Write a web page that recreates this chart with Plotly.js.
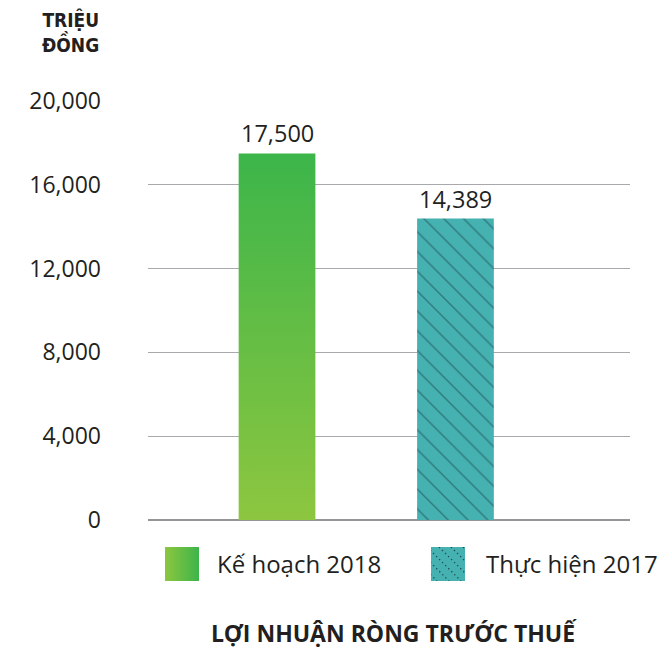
<!DOCTYPE html>
<html>
<head>
<meta charset="utf-8">
<script src="https://cdn.plot.ly/plotly-3.0.1.min.js"></script>
<style>html,body{margin:0;padding:0;background:#fff;}#chart{width:662px;height:650px;}</style>
</head>
<body>
<div id="chart"></div>
<script>
// ---- data ----
const categories = ['Kế hoạch 2018', 'Thực hiện 2017'];
const values = [17500, 14389];
const valueLabels = ['17,500', '14,389'];
const yTickValues = [0, 4000, 8000, 12000, 16000, 20000];
const yTickLabels = ['0', '4,000', '8,000', '12,000', '16,000', '20,000'];
const unitLabel = 'TRIỆU<br>ĐỒNG';
const chartTitle = 'LỢI NHUẬN RÒNG TRƯỚC THUẾ';

// ---- layout geometry ----
const W = 662, H = 650;
const M = {l: 148, r: 32, t: 101, b: 130};
const plotW = W - M.l - M.r, plotH = H - M.t - M.b;
const px = x => (x - M.l) / plotW;
const py = y => (H - M.b - y) / plotH;
const barW = 0.43;
const FONT = '"Open Sans", "Noto Sans", sans-serif';
const TEAL = '#45b1b0';

// bar 0: gradient filled bar drawn as a filled scatter from data
const i0 = 0, h0 = values[0];
const trace0 = {
  type: 'scatter', mode: 'lines',
  x: [i0 - barW/2, i0 - barW/2, i0 + barW/2, i0 + barW/2, i0 - barW/2],
  y: [0, h0, h0, 0, 0],
  fill: 'toself',
  fillgradient: {type: 'vertical', colorscale: [[0, '#8dc63f'], [1, '#3cb54a']]},
  line: {width: 0},
  hoverinfo: 'skip', showlegend: false, name: categories[0]
};
// bar 1: patterned bar
const trace1 = {
  type: 'bar', x: [1], y: [values[1]], width: barW,
  marker: {color: TEAL, line: {width: 0},
    pattern: {shape: '\\', fgcolor: '#16323a', bgcolor: TEAL, fgopacity: 0.45, size: 14, solidity: 0.1, fillmode: 'overlay'}},
  showlegend: false, name: categories[1], hoverinfo: 'skip'
};

const annotations = values.map((v, i) => ({
  x: i, y: v, xref: 'x', yref: 'y', text: valueLabels[i], showarrow: false,
  yanchor: 'bottom', yshift: 2, font: {family: FONT, size: 23.5, color: '#231f20'}
}));
annotations.push({
  xref: 'paper', yref: 'paper', x: px(101), y: py(6), xanchor: 'right', yanchor: 'top',
  text: unitLabel, showarrow: false, align: 'right',
  font: {family: '"Liberation Sans Narrow", "DejaVu Sans Condensed", sans-serif', size: 19, color: '#231f20', weight: 'bold'}
});
// legend texts
annotations.push({xref: 'paper', yref: 'paper', x: px(215), y: py(563), xanchor: 'left', yanchor: 'middle',
  text: categories[0], showarrow: false, font: {family: FONT, size: 24, color: '#231f20'}});
annotations.push({xref: 'paper', yref: 'paper', x: px(484), y: py(563), xanchor: 'left', yanchor: 'middle',
  text: categories[1], showarrow: false, font: {family: FONT, size: 24, color: '#231f20'}});

const svgGreen = '<svg xmlns="http://www.w3.org/2000/svg" width="34" height="34"><defs><linearGradient id="g" x1="0" y1="0" x2="1" y2="0"><stop offset="0" stop-color="#8dc63f"/><stop offset="1" stop-color="#3cb54a"/></linearGradient></defs><rect width="34" height="34" fill="url(#g)"/></svg>';
let dots = '';
for (let k = -40; k < 40; k += 12) {
  dots += '<line x1="' + k + '" y1="0" x2="' + (k + 34) + '" y2="34" stroke="#16323a" stroke-width="1.3" stroke-dasharray="1.3 3" opacity="0.8"/>';
}
const svgTeal = '<svg xmlns="http://www.w3.org/2000/svg" width="34" height="34"><rect width="34" height="34" fill="' + TEAL + '"/>' + dots + '</svg>';
const images = [
  {source: 'data:image/svg+xml;charset=utf-8,' + encodeURIComponent(svgGreen), xref: 'paper', yref: 'paper',
   x: px(165), y: py(547), sizex: 34/plotW, sizey: 34/plotH, xanchor: 'left', yanchor: 'top', sizing: 'stretch', layer: 'above'},
  {source: 'data:image/svg+xml;charset=utf-8,' + encodeURIComponent(svgTeal), xref: 'paper', yref: 'paper',
   x: px(431), y: py(547), sizex: 34/plotW, sizey: 34/plotH, xanchor: 'left', yanchor: 'top', sizing: 'stretch', layer: 'above'}
];

const layout = {
  width: W, height: H, margin: M,
  paper_bgcolor: '#fff', plot_bgcolor: '#fff',
  showlegend: false,
  title: {text: chartTitle, x: 393 / W, xanchor: 'center', xref: 'container', yref: 'container',
          y: (H - 634) / H, yanchor: 'middle',
          font: {family: FONT, size: 23, color: '#231f20', weight: 'bold'}},
  xaxis: {range: [-0.723, 1.978], showgrid: false, zeroline: false, showticklabels: false, ticks: '', fixedrange: true},
  yaxis: {range: [0, 20000], tickvals: yTickValues, ticktext: yTickLabels, showgrid: true, gridcolor: '#a7a9ac', gridwidth: 1,
          zeroline: true, zerolinecolor: '#939598', zerolinewidth: 1.5, ticks: '', ticklabelstandoff: 46,
          tickfont: {family: FONT, size: 23, color: '#231f20'}, fixedrange: true, layer: 'below traces'},
  annotations: annotations,
  images: images
};

Plotly.newPlot('chart', [trace0, trace1], layout, {displayModeBar: false, staticPlot: true});
</script>
</body>
</html>
